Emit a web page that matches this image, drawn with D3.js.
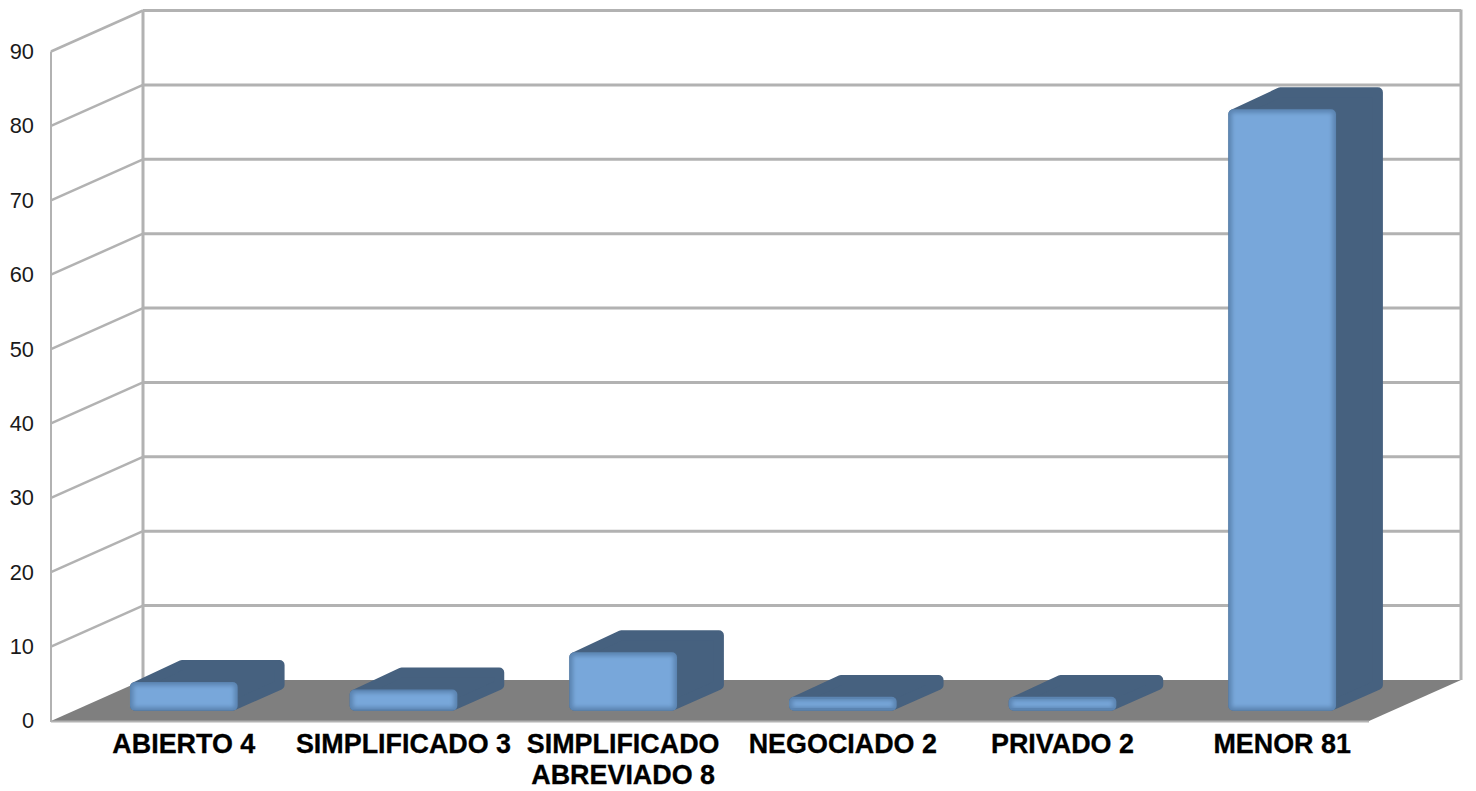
<!DOCTYPE html>
<html>
<head>
<meta charset="utf-8">
<script src="https://cdn.jsdelivr.net/npm/d3@7"></script>
<style>
  html, body { margin: 0; padding: 0; background: #fff; }
  svg { display: block; font-family: "Liberation Sans", Arial, sans-serif; }
</style>
</head>
<body>
<script>
const categories = ["ABIERTO 4", "SIMPLIFICADO 3", "SIMPLIFICADO ABREVIADO 8", "NEGOCIADO 2", "PRIVADO 2", "MENOR 81"];
const values = [4, 3, 8, 2, 2, 81];
const yTicks = [0, 10, 20, 30, 40, 50, 60, 70, 80, 90];

const width = 1476;
const height = 791;

const svg = d3
  .select("body")
  .append("svg")
  .attr("width", width)
  .attr("height", height);

const x = d3.scaleBand().domain(categories).range([51, 1369]).paddingInner(0.51).paddingOuter(0.255);
const y = d3.scaleLinear().domain([0, 90]).range([721, 51.5]);

// the fake depth of the chart box, z runs from front (0) to back wall (1)
const zx = d3.scaleLinear().domain([0, 1]).range([0, 92]);
const zy = d3.scaleLinear().domain([0, 1]).range([0, -41]);
const barZ = [0.25, 0.76];

const defs = svg.append("defs");
defs.append("filter").attr("id", "soft").append("feGaussianBlur").attr("stdDeviation", 2);

const gridColor = "#b2b2b2";
const xLeft = x.range()[0];
const xRight = x.range()[1];

// floor
svg.append("polygon")
  .attr("fill", "#7f7f7f")
  .attr("points", [
    [xLeft, y(0)],
    [xRight, y(0)],
    [xRight + zx(1), y(0) + zy(1)],
    [xLeft + zx(1), y(0) + zy(1)],
  ].join(" "));

// walls
const grid = svg.append("g").attr("fill", "none").attr("stroke", gridColor);

grid.selectAll(".back")
  .data(yTicks.slice(1))
  .enter()
  .append("line")
  .attr("class", "back")
  .attr("x1", xLeft + zx(1))
  .attr("x2", xRight + zx(1))
  .attr("y1", (d) => y(d) + zy(1))
  .attr("y2", (d) => y(d) + zy(1))
  .attr("stroke-width", 3);

grid.selectAll(".side")
  .data(yTicks.slice(1))
  .enter()
  .append("line")
  .attr("class", "side")
  .attr("x1", xLeft)
  .attr("x2", xLeft + zx(1))
  .attr("y1", (d) => y(d))
  .attr("y2", (d) => y(d) + zy(1))
  .attr("stroke-width", 2.5);

grid.append("line")
  .attr("x1", xLeft).attr("x2", xLeft)
  .attr("y1", y(0) + 1).attr("y2", y(90))
  .attr("stroke-width", 2);
grid.append("line")
  .attr("x1", xLeft + zx(1)).attr("x2", xLeft + zx(1))
  .attr("y1", y(0) + zy(1)).attr("y2", y(90) + zy(1))
  .attr("stroke-width", 3);
grid.append("line")
  .attr("x1", xRight + zx(1)).attr("x2", xRight + zx(1))
  .attr("y1", y(0) + zy(1)).attr("y2", y(90) + zy(1) - 1)
  .attr("stroke-width", 3);
grid.append("line")
  .attr("x1", xLeft).attr("x2", xRight)
  .attr("y1", y(0) + 0.5).attr("y2", y(0) + 0.5)
  .attr("stroke-width", 2);

// bars
const bars = svg.selectAll(".bar")
  .data(categories.map((c, i) => ({ c, v: values[i] })))
  .enter()
  .append("g")
  .attr("class", "bar");

const corner = 5;
const faceX = (d) => x(d.c) + zx(barZ[0]);
const baseY = y(0) + zy(barZ[0]);
const faceTop = (d) => y(d.v) + zy(barZ[0]) + 1;
const depthX = zx(barZ[1]) - zx(barZ[0]);
const depthY = zy(barZ[1]) - zy(barZ[0]);

bars.append("polygon")
  .attr("fill", "#46617f")
  .attr("stroke", "#46617f")
  .attr("stroke-width", corner * 2)
  .attr("stroke-linejoin", "round")
  .attr("points", (d) => {
    const l = faceX(d) + corner;
    const r = faceX(d) + x.bandwidth() - corner;
    return [
      [l, faceTop(d) + corner],
      [l + depthX, faceTop(d) + depthY + corner - 1],
      [r + depthX, faceTop(d) + depthY + corner - 1],
      [r + depthX, baseY + depthY - corner],
      [r, baseY - corner],
      [l, baseY - corner],
    ].join(" ");
  });

bars.append("rect")
  .attr("x", faceX)
  .attr("y", faceTop)
  .attr("width", x.bandwidth())
  .attr("height", (d) => baseY - faceTop(d))
  .attr("rx", 5)
  .attr("fill", "#5b84b1");

bars.append("rect")
  .attr("x", (d) => faceX(d) + 3.5)
  .attr("y", (d) => faceTop(d) + 3.5)
  .attr("width", x.bandwidth() - 7)
  .attr("height", (d) => Math.max(baseY - faceTop(d) - 7, 1))
  .attr("fill", "#78a7da")
  .attr("filter", "url(#soft)");

// y axis
const yAxis = svg.append("g")
  .attr("transform", `translate(${xLeft},0)`)
  .call(d3.axisLeft(y).tickValues(yTicks).tickSize(0).tickPadding(17));
yAxis.select(".domain").remove();
yAxis.selectAll("text")
  .attr("fill", "#1a1a1a")
  .attr("font-family", "Liberation Sans")
  .attr("font-size", 21.8);

// x axis labels, wrapped when wider than a band step
const xAxis = svg.append("g")
  .attr("text-anchor", "middle")
  .attr("font-size", 26.9)
  .attr("font-weight", "bold")
  .attr("fill", "#000")
  .attr("stroke", "#000")
  .attr("stroke-width", 0.3);

xAxis.selectAll("text")
  .data(categories)
  .enter()
  .append("text")
  .attr("y", 753)
  .each(function (d) {
    const text = d3.select(this);
    const cx = x(d) + x.bandwidth() / 2 + zx(barZ[0]);
    const words = d.split(" ");
    let line = [];
    let tspan = text.append("tspan").attr("x", cx).attr("y", 753);
    let lineNo = 0;
    words.forEach((w) => {
      line.push(w);
      tspan.text(line.join(" "));
      if (tspan.node().getComputedTextLength() > x.step() && line.length > 1) {
        line.pop();
        tspan.text(line.join(" "));
        line = [w];
        lineNo += 1;
        tspan = text.append("tspan").attr("x", cx).attr("y", 753 + lineNo * 31).text(w);
      }
    });
  });
</script>
</body>
</html>
